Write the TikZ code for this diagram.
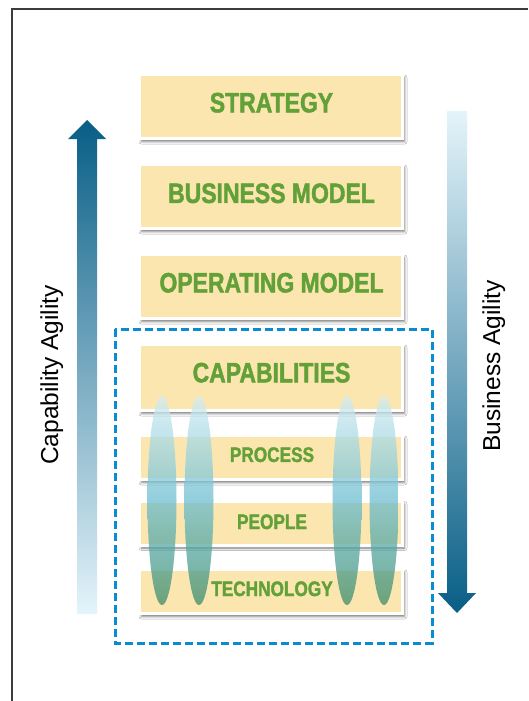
\documentclass[tikz,border=0pt]{standalone}
\usepackage{fontspec}
\setmainfont{Liberation Sans}
\newfontfamily\boxfont[FakeStretch=0.82,FakeBold=1.6]{Liberation Sans Bold}
\usetikzlibrary{shadows.blur}
\definecolor{boxyellow}{RGB}{251,230,176}
\definecolor{boxgreen}{RGB}{98,160,56}
\definecolor{dashblue}{RGB}{10,140,210}
\definecolor{arrdark}{RGB}{8,94,134}
\definecolor{arrlight}{RGB}{228,244,250}
\definecolor{eltop}{RGB}{212,237,243}
\definecolor{elmid}{RGB}{110,190,208}
\definecolor{elbot}{RGB}{60,140,105}
\definecolor{framegray}{RGB}{60,60,60}
\begin{document}
\begin{tikzpicture}[x=1pt,y=-1pt,
  layerbox/.style={draw=white, line width=3pt, fill=boxyellow, minimum width=263pt, inner sep=0pt,
    blur shadow={shadow xshift=2pt, shadow yshift=-3pt, shadow blur radius=2.5pt, shadow opacity=55}},
  bigbox/.style={layerbox, minimum height=64pt},
  smallbox/.style={layerbox, minimum height=44pt},
  bigtext/.style={font=\boxfont\fontsize{28}{30}\selectfont, text=boxgreen, inner sep=0pt},
  smalltext/.style={font=\boxfont\fontsize{21}{24}\selectfont, text=boxgreen, inner sep=0pt},
  sidelabel/.style={font=\fontsize{24.5}{28}\selectfont, rotate=90, anchor=base, inner sep=0pt},
  lens/.style={shade, top color=eltop, bottom color=elbot, middle color=elmid, opacity=0.75},
  scopebox/.style={draw=dashblue, line width=3pt, dash pattern=on 8pt off 4pt}
]
\useasboundingbox[fill=white] (0,0) rectangle (528,701);
% frame
\draw[framegray, line width=1.2pt] (12,701) -- (12,9) -- (528,9);
% arrows
\path[shade, top color=arrdark, bottom color=arrlight]
  (77,614) -- (77,139) -- (68,139) -- (87,120) -- (106,139) -- (97,139) -- (97,614) -- cycle;
\path[shade, top color=arrlight, bottom color=arrdark]
  (447,111) -- (467,111) -- (467,593) -- (476,593) -- (457,613) -- (438,593) -- (447,593) -- cycle;
% dashed scope
\draw[scopebox] (115,329) rectangle (432,643);
% boxes
\node[bigbox] (strategy) at (271,106.5) {};
\node[bigbox] (business) at (271,196.5) {};
\node[bigbox] (operating) at (271,286.5) {};
\node[bigbox, minimum height=66pt] (capabilities) at (271,377.5) {};
\node[smallbox] (process) at (271,457.5) {};
\node[smallbox] (people) at (271,523) {};
\node[smallbox] (technology) at (271,591.5) {};
% lenses
\path[lens] (162,500.5) ellipse [x radius=14.5, y radius=104.5];
\path[lens] (199,500.5) ellipse [x radius=14.5, y radius=104.5];
\path[lens] (347,500.5) ellipse [x radius=14.5, y radius=104.5];
\path[lens] (384,500.5) ellipse [x radius=14.5, y radius=104.5];
% texts
\node[bigtext] (tstrategy) at (271.5,102.7) {STRATEGY};
\node[bigtext] (tbusiness) at (271.5,193.3) {BUSINESS MODEL};
\node[bigtext] (toperating) at (271.5,282.8) {OPERATING MODEL};
\node[bigtext] (tcapabilities) at (271.5,372.7) {CAPABILITIES};
\node[smalltext] (tprocess) at (272,454.7) {PROCESS};
\node[smalltext] (tpeople) at (272,521.8) {PEOPLE};
\node[smalltext] (ttechnology) at (272,588.8) {TECHNOLOGY};
% side labels
\node[sidelabel] (capag) at (58,375) {Capability Agility};
\node[sidelabel] (busag) at (500,366) {Business Agility};
\end{tikzpicture}
\end{document}
